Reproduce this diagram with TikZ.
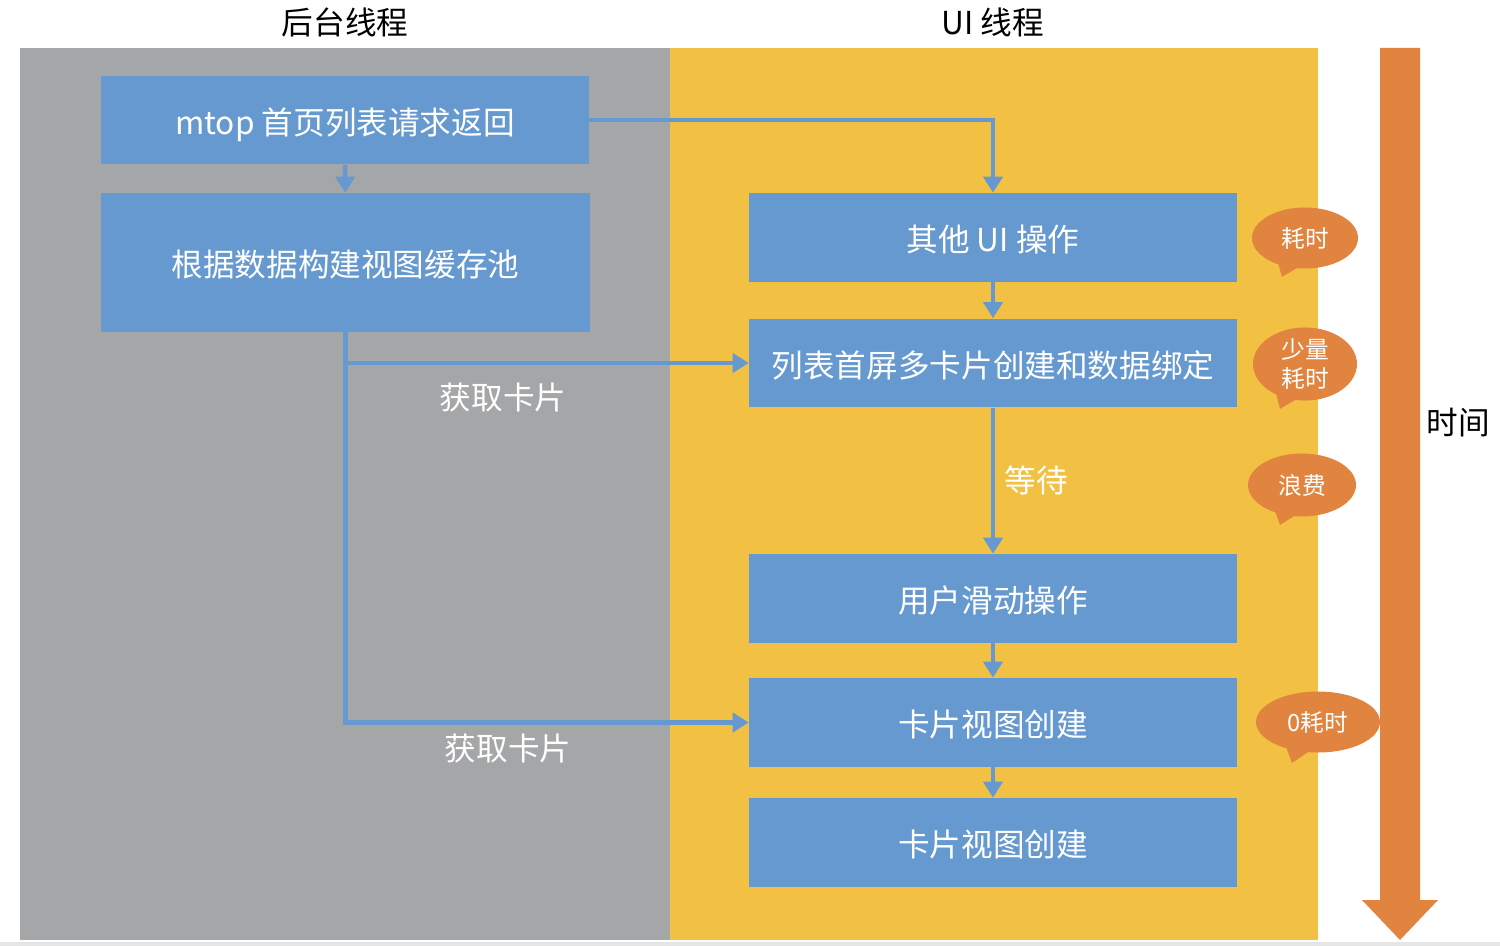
\documentclass[tikz,border=0pt]{standalone}
\usepackage{fontspec}
\setmainfont{Noto Sans CJK SC}
\usetikzlibrary{arrows.meta,shapes.geometric,calc}
\definecolor{panelGray}{RGB}{165,166,168}
\definecolor{panelYellow}{RGB}{242,192,66}
\definecolor{boxBlue}{RGB}{102,153,207}
\definecolor{bubbleOrange}{RGB}{224,132,64}
\colorlet{edgeGray}{gray!20}

\begin{document}
\begin{tikzpicture}[x=0.02cm,y=-0.02cm,
  task/.style={fill=boxBlue,text=white,minimum width=9.76cm,minimum height=1.78cm,inner sep=0pt,text height=0.62cm,text depth=0.05cm,font=\fontsize{18}{20}\selectfont},
  flow/.style={draw=boxBlue,line width=0.09cm,-{Triangle[width=0.38cm,length=0.32cm]}},
  bubble/.style={ellipse,fill=bubbleOrange,text=white,inner sep=0pt,minimum height=1.22cm,minimum width=2.12cm,align=center,font=\fontsize{13.5}{17}\selectfont},
  note/.style={text=white,font=\fontsize{18}{20}\selectfont},
  heading/.style={text=black,font=\fontsize{18}{20}\selectfont}]
\useasboundingbox (0,0) rectangle (1500,946);
\fill[edgeGray] (0,942) rectangle (1500,946);
% the two thread panels
\fill[panelGray] (20,48) rectangle (670,940);
\fill[panelYellow] (670,48) rectangle (1318,940);
\node[heading] (bgTitle) at (345,22) {后台线程};
\node[heading] (uiTitle) at (993,22) {UI 线程};

% time arrow
\fill[bubbleOrange] (1380,48) -- (1420,48) -- (1420,900) -- (1438,900) -- (1400,940) -- (1362,900) -- (1380,900) -- cycle;
\node[heading] (timeLabel) at (1458,423) {时间};

% tasks
\node[task] (request) at (345,120) {mtop 首页列表请求返回};
\node[task,minimum width=9.78cm,minimum height=2.78cm] (pool) at (345.5,262.5) {根据数据构建视图缓存池};
\node[task] (otherUI) at (993,237.5) {其他 UI 操作};
\node[task] (firstScreen) at (993,363) {列表首屏多卡片创建和数据绑定};
\node[task] (scroll) at (993,598.5) {用户滑动操作};
\node[task] (cardOne) at (993,722.5) {卡片视图创建};
\node[task] (cardTwo) at (993,842.5) {卡片视图创建};

\draw[flow] (request.east) -| (otherUI.north);
\draw[flow] (request) -- (pool);
\draw[flow] (pool.south) |- (cardOne.west);
\draw[flow] (pool.south |- firstScreen.west) -- (firstScreen.west);
\node[note] (fetchOne) at (503,398) {获取卡片};
\node[note] (fetchTwo) at (508,749) {获取卡片};
\draw[flow] (otherUI) -- (firstScreen);
\draw[flow] (firstScreen) -- node[note,right=2pt,pos=0.5] (wait) {等待} (scroll);
\draw[flow] (scroll) -- (cardOne);
\draw[flow] (cardOne) -- (cardTwo);

% cost bubbles
\node[bubble] (costA) at (1305,238) {耗时};
\fill[bubbleOrange] ($(costA.south)+(-27,-6)$) -- ($(costA.south)+(-6,-2)$) -- ($(costA.south)+(-23,8)$) -- cycle;
\node[bubble,minimum height=1.26cm,minimum width=2.08cm] (costB) at (1305,364) {少量\\耗时};
\fill[bubbleOrange] ($(costB.south)+(-29,-8)$) -- ($(costB.south)+(-8,-2)$) -- ($(costB.south)+(-25,8)$) -- cycle;
\node[bubble,minimum height=1.26cm,minimum width=2.16cm] (costC) at (1302,485) {浪费};
\fill[bubbleOrange] ($(costC.south)+(-27,-6)$) -- ($(costC.south)+(-6,-2)$) -- ($(costC.south)+(-22,8)$) -- cycle;
\node[bubble,minimum width=2.48cm] (costD) at (1318,722) {0耗时};
\fill[bubbleOrange] ($(costD.south)+(-32,-6)$) -- ($(costD.south)+(-8,-2)$) -- ($(costD.south)+(-26,10)$) -- cycle;
\end{tikzpicture}
\end{document}
